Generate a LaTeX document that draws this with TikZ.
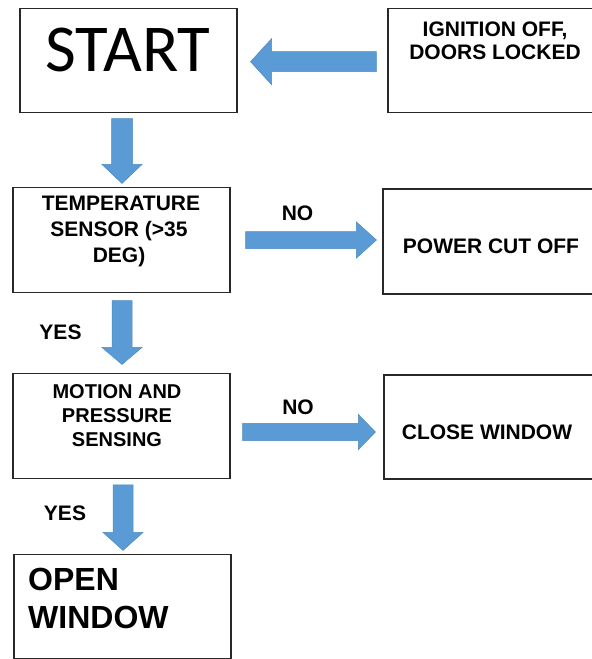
\documentclass[tikz,border=0pt]{standalone}
\usepackage{fontspec}
\setmainfont{Liberation Sans}
\newfontfamily\calfont{Carlito}
\usetikzlibrary{calc}
\definecolor{arrowblue}{RGB}{91,155,213}
\definecolor{arrowedge}{RGB}{78,138,196}
\definecolor{boxline}{RGB}{40,40,40}
\tikzset{
 box/.style={draw=boxline, line width=1.1pt, fill=white, rectangle, inner sep=0pt, minimum height=104.5pt},
 lbl/.style={anchor=base, inner sep=0pt, font=\bfseries\fontsize{20}{24}\selectfont},
 lblr/.style={anchor=base, inner sep=0pt, font=\bfseries\fontsize{21}{25}\selectfont},
 bigl/.style={anchor=base west, inner sep=0pt, font=\bfseries\fontsize{32}{38}\selectfont},
 barrowstyle/.style={fill=arrowblue, draw=arrowedge, line width=0.5pt, line join=miter},
}
% #1 start, #2 end (tip), #3 shaft half width, #4 head half width, #5 head length
\newcommand\blockarrow[5]{%
 \path ($(#2)!#5pt!(#1)$) coordinate (bah);
 \filldraw[barrowstyle] ($(#1)!#3pt!90:(#2)$) -- ($(bah)!#3pt!90:(#2)$) -- ($(bah)!#4pt!90:(#2)$) -- (#2)
   -- ($(bah)!#4pt!-90:(#2)$) -- ($(bah)!#3pt!-90:(#2)$) -- ($(#1)!#3pt!-90:(#2)$) -- cycle;
}
\begin{document}
\begin{tikzpicture}[x=1pt,y=-1pt]
\useasboundingbox (0,0) rectangle (592,659);
\clip (0,0) rectangle (592,659);
\fill[white] (0,0) rectangle (592,659);

% boxes
\node[box, minimum width=217pt] (start)  at (128.5,60.5) {};
\node[box, minimum width=212pt] (ign)    at (494,60.5) {};
\node[box, minimum width=217pt, minimum height=105pt] (temp)   at (121.5,239.8) {};
\node[box, minimum width=217pt, minimum height=105pt] (power)  at (491.5,241.5) {};
\node[box, minimum width=217pt, minimum height=105pt] (motion) at (121.5,425.8) {};
\node[box, minimum width=216pt, minimum height=104pt] (close)  at (492,427) {};
\node[box, minimum width=217pt, minimum height=103.7pt] (open) at (122.5,606.2) {};

% texts
\node[anchor=base, inner sep=0pt, font=\calfont\fontsize{67}{72}\selectfont] (starttxt) at (128,71.7) {START};
\node[lblr] (ign1) at (495,36) {IGNITION OFF,};
\node[lblr] (ign2) at (495,59) {DOORS LOCKED};
\node[lblr] (temp1) at (121,210) {TEMPERATURE};
\node[lblr] (temp2) at (119,236) {SENSOR (>35};
\node[lblr] (temp3) at (119,262) {DEG)};
\node[lblr] (powertxt) at (491,253) {POWER CUT OFF};
\node[lbl] (mot1) at (117,398) {MOTION AND};
\node[lbl] (mot2) at (117,422) {PRESSURE};
\node[lbl] (mot3) at (117,446) {SENSING};
\node[lblr] (closetxt) at (487,439) {CLOSE WINDOW};
\node[bigl] (open1) at (28,590) {OPEN};
\node[bigl] (open2) at (28,628) {WINDOW};

\node[lblr] (no1) at (297.5,220) {NO};
\node[lblr] (no2) at (298,414) {NO};
\node[lblr] (yes1) at (60.5,339) {YES};
\node[lblr] (yes2) at (65,520) {YES};

% arrow end points
\coordinate (aLs) at ($(ign.west)+(-11,1.2)$);
\coordinate (aLe) at ($(start.east)+(13,1.2)$);
\coordinate (d1s) at ($(start.south)+(-6.5,5.3)$);
\coordinate (d1e) at ($(temp.north)+(0.5,-3.3)$);
\coordinate (r1s) at ($(temp.east)+(15,0.2)$);
\coordinate (r1e) at ($(power.west)+(-6,-1.5)$);
\coordinate (d2s) at ($(temp.south)+(0.5,7.7)$);
\coordinate (d2e) at ($(motion.north)+(0.5,-8.3)$);
\coordinate (r2s) at ($(motion.east)+(12,6.2)$);
\coordinate (r2e) at ($(close.west)+(-8,5)$);
\coordinate (d3s) at ($(motion.south)+(1.5,6)$);
\coordinate (d3e) at ($(open.north)+(0.5,-3.4)$);

\blockarrow{aLs}{aLe}{10}{23}{21}
\blockarrow{d1s}{d1e}{10.5}{20}{19}
\blockarrow{r1s}{r1e}{8.5}{18}{20}
\blockarrow{d2s}{d2e}{10}{20}{17}
\blockarrow{r2s}{r2e}{8.7}{17.5}{17}
\blockarrow{d3s}{d3e}{10}{20}{18}
\end{tikzpicture}
\end{document}
